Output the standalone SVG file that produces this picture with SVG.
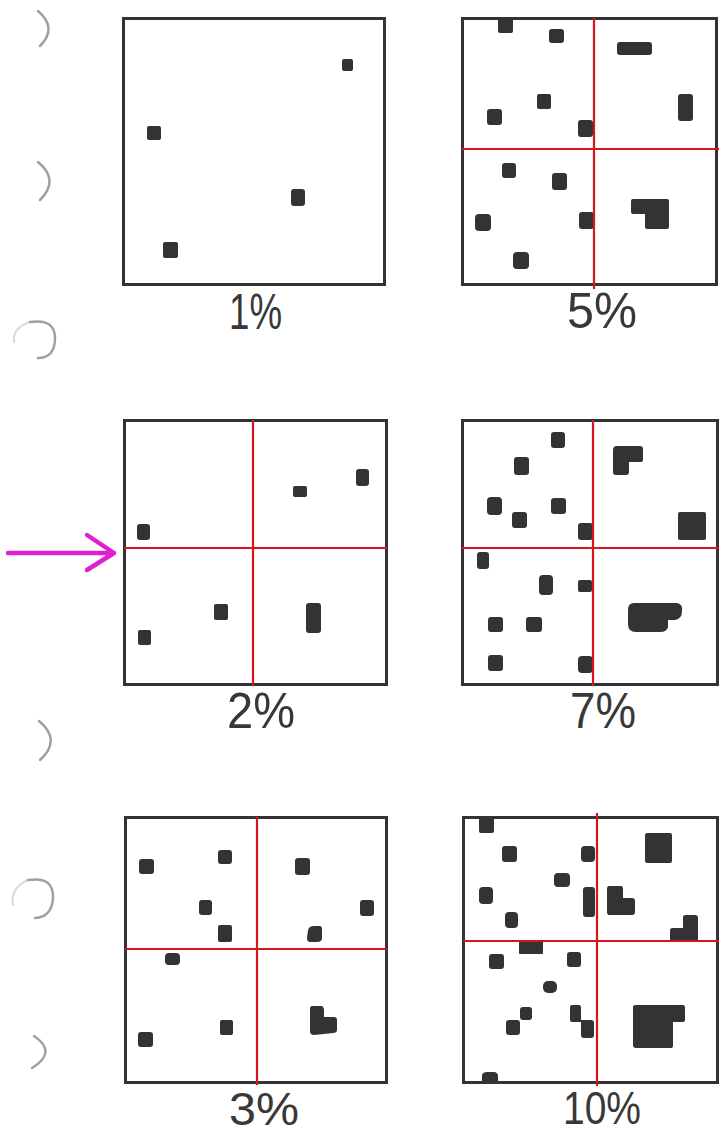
<svg xmlns="http://www.w3.org/2000/svg" width="719" height="1134" viewBox="0 0 719 1134">
<style>
.box{fill:#fff;stroke:#333;stroke-width:3}
.dot{fill:#333}
.red{stroke:#d8141c;stroke-width:2.2;fill:none}
.lbl{font-family:"Liberation Sans","DejaVu Sans",sans-serif;font-size:50px;fill:#383838}
.lbl2{font-family:"Liberation Sans","DejaVu Sans",sans-serif;font-size:47px;fill:#383838}
.hole{fill:none;stroke:#a0a0a0;stroke-width:2.5;stroke-linecap:round}
.holel{fill:none;stroke:#dadada;stroke-width:2;stroke-linecap:round}
</style>
<rect width="719" height="1134" fill="#fff"/>
<g id="margin-holes">
<path class="hole" d="M38,11 Q58,28 40,46"/>
<path class="hole" d="M38,162 Q60,180 40,200"/>
<path class="holel" d="M30,322 Q12,328 14,342"/>
<path class="hole" d="M30,322 Q56,318 55,340 Q54,358 38,358"/>
<path class="hole" d="M39,721 Q62,740 40,760"/>
<path class="holel" d="M28,880 Q10,888 13,905"/>
<path class="hole" d="M28,880 Q54,876 53,898 Q52,917 35,918"/>
<path class="hole" d="M34,1036 Q58,1052 32,1068"/>
</g>
<g id="panel-1pct">
<rect class="box" x="123.5" y="18.5" width="261" height="266"/>
<rect class="dot" x="342" y="59" width="11" height="12" rx="2"/>
<rect class="dot" x="147" y="126" width="14" height="14" rx="2"/>
<rect class="dot" x="291" y="189" width="14" height="17" rx="3"/>
<rect class="dot" x="163" y="242" width="15" height="16" rx="2"/>
<text class="lbl" x="229" y="329" textLength="53" lengthAdjust="spacingAndGlyphs">1%</text>
</g>
<g id="panel-5pct">
<rect class="box" x="462.5" y="18.5" width="254" height="266"/>
<rect class="dot" x="498" y="18" width="15" height="15" rx="2"/>
<rect class="dot" x="549" y="29" width="15" height="14" rx="3"/>
<rect class="dot" x="617" y="42" width="35" height="13" rx="3"/>
<rect class="dot" x="537" y="94" width="14" height="15" rx="2"/>
<rect class="dot" x="487" y="109" width="15" height="16" rx="3"/>
<rect class="dot" x="578" y="120" width="15" height="17" rx="3"/>
<rect class="dot" x="678" y="94" width="15" height="27" rx="3"/>
<rect class="dot" x="502" y="163" width="14" height="15" rx="3"/>
<rect class="dot" x="552" y="173" width="15" height="17" rx="3"/>
<rect class="dot" x="475" y="214" width="16" height="17" rx="4"/>
<rect class="dot" x="579" y="212" width="15" height="17" rx="3"/>
<rect class="dot" x="513" y="252" width="16" height="17" rx="4"/>
<path class="dot" d="M631,201 Q631,199 633,199 L667,199 Q669,199 669,201 L669,227 Q669,229 667,229 L647,229 Q645,229 645,227 L645,214 L633,214 Q631,214 631,212 Z"/>
<line class="red" x1="594" y1="18" x2="594" y2="289"/>
<line class="red" x1="462" y1="149" x2="719" y2="149"/>
<text class="lbl" x="567" y="328" textLength="70" lengthAdjust="spacingAndGlyphs">5%</text>
</g>
<g id="panel-2pct">
<rect class="box" x="124.5" y="420.5" width="262" height="264"/>
<rect class="dot" x="137" y="524" width="13" height="16" rx="3"/>
<rect class="dot" x="293" y="486" width="14" height="11" rx="2"/>
<rect class="dot" x="356" y="469" width="13" height="17" rx="3"/>
<rect class="dot" x="214" y="604" width="14" height="16" rx="2"/>
<rect class="dot" x="138" y="630" width="13" height="15" rx="2"/>
<rect class="dot" x="306" y="603" width="15" height="30" rx="3"/>
<line class="red" x1="253" y1="420" x2="253" y2="686"/>
<line class="red" x1="124" y1="548" x2="387" y2="548"/>
<text class="lbl" x="227" y="728" textLength="68" lengthAdjust="spacingAndGlyphs">2%</text>
</g>
<g id="panel-7pct">
<rect class="box" x="462.5" y="420.5" width="255" height="264"/>
<rect class="dot" x="551" y="432" width="14" height="16" rx="3"/>
<rect class="dot" x="514" y="457" width="15" height="18" rx="3"/>
<rect class="dot" x="487" y="497" width="15" height="18" rx="4"/>
<rect class="dot" x="512" y="512" width="15" height="16" rx="3"/>
<rect class="dot" x="551" y="498" width="15" height="16" rx="3"/>
<rect class="dot" x="578" y="523" width="15" height="17" rx="3"/>
<path class="dot" d="M613,450 Q613,446 617,446 L640,446 Q643,446 643,449 L643,460 Q643,462 640,462 L629,462 L629,472 Q629,475 626,475 L616,475 Q613,475 613,472 Z"/>
<rect class="dot" x="678" y="512" width="28" height="28" rx="2"/>
<rect class="dot" x="477" y="552" width="12" height="17" rx="3"/>
<rect class="dot" x="539" y="575" width="14" height="20" rx="4"/>
<rect class="dot" x="578" y="580" width="14" height="12" rx="2"/>
<rect class="dot" x="488" y="617" width="15" height="15" rx="3"/>
<rect class="dot" x="526" y="617" width="16" height="15" rx="3"/>
<rect class="dot" x="488" y="655" width="15" height="16" rx="3"/>
<rect class="dot" x="578" y="656" width="15" height="17" rx="4"/>
<path class="dot" d="M634,603 L677,603 Q683,604 682,611 Q682,619 675,620 L668,620 L668,627 Q667,632 660,632 L636,632 Q628,632 628,624 L628,610 Q628,603 634,603 Z"/>
<line class="red" x1="593" y1="420" x2="593" y2="686"/>
<line class="red" x1="462" y1="548" x2="719" y2="548"/>
<text class="lbl" x="570" y="728" textLength="66" lengthAdjust="spacingAndGlyphs">7%</text>
</g>
<g id="panel-3pct">
<rect class="box" x="125.5" y="817.5" width="261" height="265"/>
<rect class="dot" x="139" y="859" width="15" height="15" rx="3"/>
<rect class="dot" x="218" y="850" width="14" height="14" rx="3"/>
<rect class="dot" x="295" y="858" width="15" height="17" rx="3"/>
<rect class="dot" x="199" y="900" width="13" height="15" rx="3"/>
<rect class="dot" x="360" y="900" width="14" height="16" rx="3"/>
<rect class="dot" x="218" y="925" width="14" height="17" rx="2"/>
<path class="dot" d="M308,930 Q309,926 314,926 L320,926 Q322,926 322,930 L322,938 Q322,942 317,942 L310,942 Q307,942 307,938 Z"/>
<rect class="dot" x="165" y="953" width="15" height="12" rx="4"/>
<rect class="dot" x="138" y="1032" width="15" height="15" rx="3"/>
<rect class="dot" x="220" y="1020" width="13" height="15" rx="2"/>
<path class="dot" d="M312,1006 L322,1006 Q324,1007 324,1010 L324,1017 L334,1017 Q337,1017 337,1020 L337,1030 Q337,1033 333,1033 L314,1035 Q310,1035 310,1031 L310,1009 Q310,1006 312,1006 Z"/>
<line class="red" x1="257" y1="817" x2="257" y2="1085"/>
<line class="red" x1="125" y1="949" x2="387" y2="949"/>
<text class="lbl2" x="229" y="1125" textLength="70" lengthAdjust="spacingAndGlyphs">3%</text>
</g>
<g id="panel-10pct">
<rect class="box" x="463.5" y="817.5" width="254" height="265"/>
<rect class="dot" x="479" y="817" width="15" height="16" rx="2"/>
<rect class="dot" x="502" y="846" width="15" height="16" rx="3"/>
<rect class="dot" x="581" y="846" width="14" height="16" rx="4"/>
<rect class="dot" x="645" y="833" width="27" height="30" rx="2"/>
<rect class="dot" x="554" y="873" width="16" height="14" rx="4"/>
<rect class="dot" x="479" y="887" width="14" height="17" rx="4"/>
<rect class="dot" x="583" y="887" width="12" height="30" rx="3"/>
<path class="dot" d="M609,886 L621,886 Q623,886 623,889 L623,898 L632,898 Q635,898 635,901 L635,912 Q635,915 632,915 L609,915 Q607,915 607,912 L607,889 Q607,886 609,886 Z"/>
<rect class="dot" x="505" y="912" width="13" height="16" rx="4"/>
<path class="dot" d="M683,917 Q683,915 686,915 L695,915 Q698,915 698,918 L698,940 L670,940 L670,930 Q670,928 673,928 L683,928 Z"/>
<rect class="dot" x="519" y="940" width="24" height="14" rx="1"/>
<rect class="dot" x="489" y="954" width="15" height="15" rx="3"/>
<rect class="dot" x="567" y="952" width="14" height="15" rx="3"/>
<rect class="dot" x="543" y="981" width="14" height="12" rx="5"/>
<rect class="dot" x="520" y="1007" width="12" height="13" rx="3"/>
<rect class="dot" x="506" y="1020" width="14" height="15" rx="3"/>
<path class="dot" d="M570,1007 Q570,1005 572,1005 L579,1005 Q581,1005 581,1008 L581,1020 L591,1020 Q594,1020 594,1023 L594,1035 Q594,1038 591,1038 L584,1038 Q581,1038 581,1035 L581,1022 L572,1022 Q570,1022 570,1020 Z"/>
<path class="dot" d="M633,1007 Q633,1005 636,1005 L683,1005 Q685,1005 685,1008 L685,1020 Q685,1022 682,1022 L673,1022 L673,1046 Q673,1048 670,1048 L636,1048 Q633,1048 633,1045 Z"/>
<path class="dot" d="M482,1083 L482,1075 Q483,1072 487,1072 L495,1072 Q498,1073 498,1076 L498,1083 Z"/>
<line class="red" x1="597" y1="813" x2="597" y2="1086"/>
<line class="red" x1="463" y1="941" x2="719" y2="941"/>
<text class="lbl2" x="563" y="1124" textLength="78" lengthAdjust="spacingAndGlyphs">10%</text>
</g>
<g id="connectors">
<path d="M8,553 L114,553 M87,535 L114,553 L87,570" fill="none" stroke="#e01fd2" stroke-width="4.5" stroke-linecap="round" stroke-linejoin="round"/>
</g>
</svg>
